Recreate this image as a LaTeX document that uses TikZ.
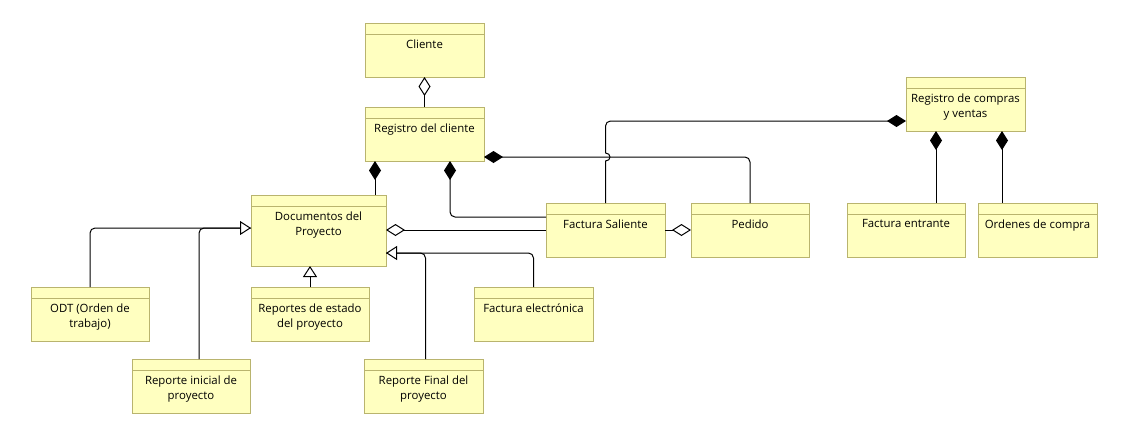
\documentclass[tikz,border=0pt]{standalone}
\usepackage{fontspec}
\setmainfont{Open Sans}
\usetikzlibrary{arrows.meta,calc}
\definecolor{boxfill}{RGB}{255,255,192}
\definecolor{boxline}{RGB}{185,180,110}
\newcommand\classbox[6]{%
  \node[umlbox, minimum width=#4pt, minimum height=#5pt, anchor=north west] (#1) at (#2,#3) {};
  \draw[umlsep] ([yshift=-11.5pt]#1.north west) -- ([yshift=-11.5pt]#1.north east);
  \node[umltext, anchor=north] (#1-t) at ([yshift=-16.5pt]#1.north) {#6};
}
\begin{document}
\begin{tikzpicture}[x=1pt,y=-1pt,
  umlbox/.style={rectangle, draw=boxline, fill=boxfill, line width=0.9pt, inner sep=0pt, outer sep=0pt},
  umlsep/.style={draw=boxline, line width=0.9pt},
  umltext/.style={align=center, inner sep=0pt, font=\fontsize{11.4}{15}\selectfont},
  conn/.style={draw=black, line width=1pt},
  fdiam/.style={conn, {Diamond[length=19pt,width=12pt]}-},
  odiam/.style={conn, {Diamond[open,length=19pt,width=12pt,fill=white]}-},
  odiamend/.style={conn, -{Diamond[open,length=19pt,width=12pt,fill=white]}},
  gen/.style={conn, -{Triangle[open,length=11pt,width=14pt,fill=white]}},
]
\fill[white] (0,0) rectangle (1127,432);
\useasboundingbox (0,0) rectangle (1127,432);

\classbox{cliente}{365}{23}{119}{54}{Cliente}
\classbox{regcli}{365}{107}{119}{54}{Registro del cliente}
\classbox{docs}{251}{195}{135}{71}{Documentos del\\Proyecto}
\classbox{odt}{31}{287}{118}{54}{ODT (Orden de\\trabajo)}
\classbox{repini}{132}{359}{118}{54}{Reporte inicial de\\proyecto}
\classbox{repest}{251}{287}{118}{54}{Reportes de estado\\del proyecto}
\classbox{facel}{474}{287}{119}{54}{Factura electrónica}
\classbox{repfin}{364}{359}{119}{54}{Reporte Final del\\proyecto}
\classbox{fsal}{546}{203}{119}{54}{Factura Saliente}
\classbox{pedido}{691}{203}{118}{54}{Pedido}
\classbox{fent}{847}{203}{118}{54}{Factura entrante}
\classbox{ordc}{978}{203}{119}{54}{Ordenes de compra}
\classbox{regcomp}{906}{77}{119}{54}{Registro de compras\\y ventas}

% Cliente - Registro del cliente
\draw[odiam] (cliente.south) -- (regcli.north);

% Registro del cliente compositions
\coordinate (rc1) at ([xshift=10pt]regcli.south west);
\draw[fdiam] (rc1) -- (rc1 |- docs.north);
\coordinate (rc2) at ([xshift=-34pt]regcli.south east);
\coordinate (fs1) at ([yshift=-14pt]fsal.north west);
\draw[fdiam, rounded corners=5pt] (rc2) |- (fs1);
\coordinate (rc3) at ([yshift=4pt]regcli.south east);
\draw[fdiam, rounded corners=5pt] (rc3) -| (pedido.north);

% Registro de compras - Factura Saliente (with hop)
\coordinate (rv1) at ([yshift=10pt]regcomp.south west);
\coordinate (hop) at (fsal.north |- rc3);
\coordinate (hopT) at ([yshift=4pt]hop);
\coordinate (hopB) at ([yshift=-4pt]hop);
\draw[fdiam, rounded corners=5pt] (rv1) -| (hopT);
\draw[conn] (hopT) .. controls +(6,0) and +(6,0) .. (hopB) -- (fsal.north);

% Aggregations
\draw[odiam] (fsal.west -| docs.east) -- (fsal.west);
\draw[odiamend] (fsal.east) -- (pedido.west);

% Generalizations
\coordinate (dg1) at ([yshift=-33pt]docs.north west);
\coordinate (ri1) at ([xshift=8pt]repini.north);
\draw[conn, rounded corners=5pt] (ri1) |- (dg1);
\draw[gen, rounded corners=5pt] (odt.north) |- (dg1);
\draw[gen] (repest.north) -- (repest.north |- docs.south);
\coordinate (dg2) at ([yshift=13pt]docs.south east);
\coordinate (rf1) at ([xshift=2pt]repfin.north);
\draw[conn, rounded corners=5pt] (rf1) |- (dg2);
\draw[gen, rounded corners=5pt] (facel.north) |- (dg2);

% Registro de compras compositions
\coordinate (rv2) at ([xshift=30pt]regcomp.south west);
\coordinate (rv3) at ([xshift=96pt]regcomp.south west);
\draw[fdiam] (rv2) -- (rv2 |- fent.north);
\draw[fdiam] (rv3) -- (rv3 |- ordc.north);
\end{tikzpicture}
\end{document}
